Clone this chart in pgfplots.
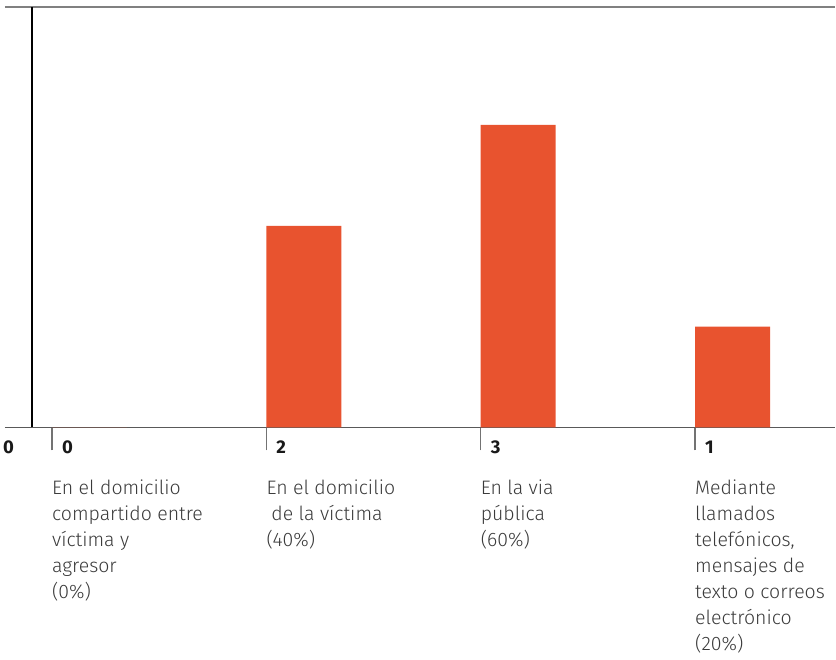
\documentclass[border=0pt]{standalone}
\usepackage{pgfplots}
\pgfplotsset{compat=1.18}
\usepackage{fontspec}
\setmainfont{Fira Sans}
\newfontfamily\lightfont{Fira Sans Light}
\definecolor{barc}{HTML}{E8532F}
\definecolor{txt}{HTML}{3A3A3A}
\begin{document}
\begin{tikzpicture}
\begin{axis}[
    name=ax,
    width=831pt, height=421pt, scale only axis,
    xmin=-0.219, xmax=3.653,
    ymin=0, ymax=4.17,
    axis x line*=bottom,
    axis y line=none,
    x axis line style={draw=black!65, line width=1.2pt},
    xtick={0,1,2,3},
    xticklabels={0,2,3,1},
    major tick length=23pt,
    tick align=outside,
    xtick style={draw=black!55, line width=1.2pt},
    xticklabel style={anchor=north west, inner sep=0pt, xshift=10pt, yshift=10pt,
        font=\fontsize{18.5}{20}\selectfont\bfseries, text=black!90},
    ytick=\empty,
    clip=false,
]
\addplot[ybar, bar width=0.35, fill=barc, draw=none]
    coordinates {(0.175,0) (1.175,2) (2.175,3) (3.175,1)};

% top rule and y axis
\draw[black!50, line width=2pt] (rel axis cs:0,1) -- (rel axis cs:1,1);
\draw[black, line width=1.3pt] (axis cs:-0.093,0) -- (axis cs:-0.093,4.17);

\node[anchor=north west, inner sep=0pt, xshift=-2pt, yshift=-13pt,
    font=\fontsize{18.5}{20}\selectfont\bfseries, text=black!90] at (rel axis cs:0,0) {0};

% category descriptions
\tikzset{desc/.style={anchor=north west, inner sep=0pt, yshift=-52pt, align=left,
    font=\lightfont\fontsize{19.5}{26}\selectfont, text=txt}}
\node[desc] at (axis cs:0,0) {En el domicilio\\compartido entre\\víctima y\\agresor\\(0\%)};
\node[desc] at (axis cs:1,0) {En el domicilio\\\hspace*{5pt}de la víctima\\(40\%)};
\node[desc] at (axis cs:2,0) {En la via\\pública\\(60\%)};
\node[desc] at (axis cs:3,0) {Mediante\\llamados\\telefónicos,\\mensajes de\\texto o correos\\electrónico\\(20\%)};
\end{axis}
\path ([xshift=-5pt,yshift=-232pt]ax.south west) rectangle ([yshift=7pt]ax.north east);
\end{tikzpicture}
\end{document}
